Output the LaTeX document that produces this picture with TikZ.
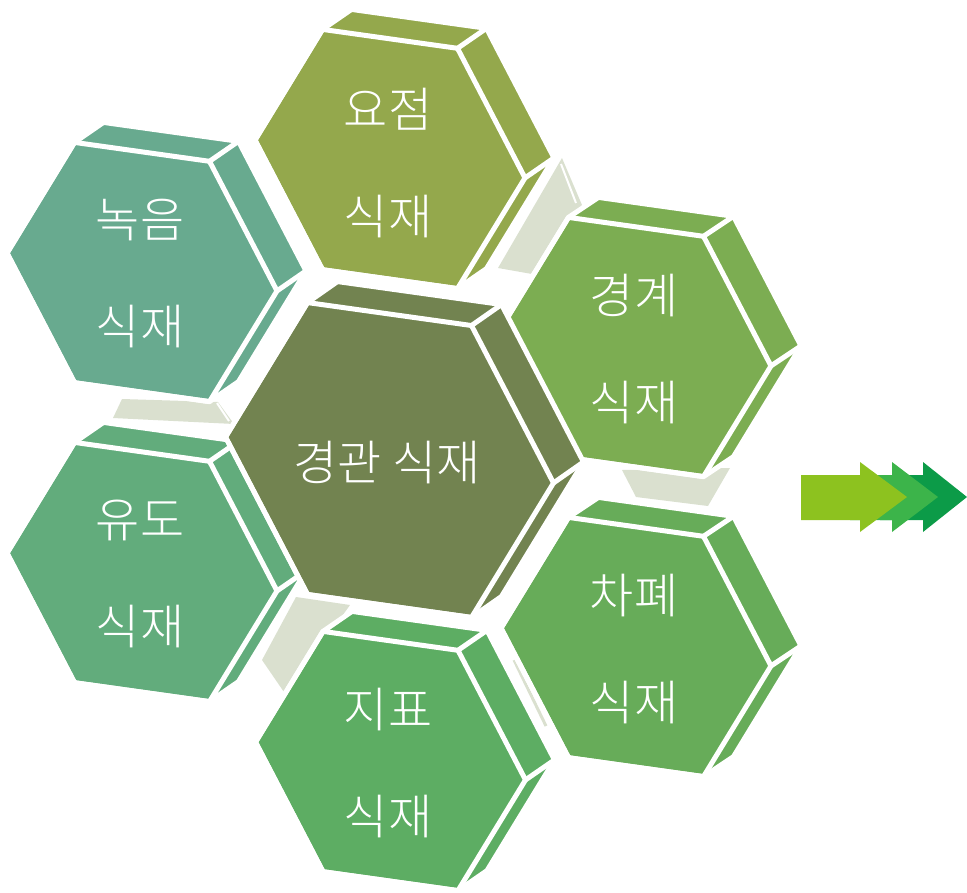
\documentclass[tikz,border=0pt]{standalone}
\usepackage{fontspec}
\IfFontExistsTF{Noto Sans CJK KR Light}{\newfontfamily\kr{Noto Sans CJK KR Light}}{%
  \IfFontExistsTF{Noto Sans CJK KR DemiLight}{\newfontfamily\kr{Noto Sans CJK KR DemiLight}}{\newfontfamily\kr{Noto Sans CJK KR}}}
\usetikzlibrary{calc}
\definecolor{cYo}{HTML}{94A84C}
\definecolor{cNok}{HTML}{68AA8F}
\definecolor{cYu}{HTML}{62AC7C}
\definecolor{cGg}{HTML}{7CAD52}
\definecolor{cCha}{HTML}{67AC59}
\definecolor{cJi}{HTML}{5DAD63}
\definecolor{cMain}{HTML}{728350}
\definecolor{cGray}{HTML}{DAE0CF}
\definecolor{arA}{HTML}{8DC21F}
\definecolor{arB}{HTML}{3CB44A}
\definecolor{arC}{HTML}{0C9B48}
\tikzset{
  lbl/.style={text=white, align=center, inner sep=0pt, font=\kr\fontsize{48}{107}\selectfont},
  gap/.style={white, line width=5pt, line join=round},
  graypart/.style={fill=cGray}
}
% #1 cx, #2 cy, #3 R, #4 ex, #5 ey, #6 colour
\newcommand{\hexprism}[6]{%
  \pgfmathsetmacro{\pa}{#3/2}%
  \pgfmathsetmacro{\ph}{0.89*#3}%
  \pgfmathsetmacro{\ps}{0.14*#3}%
  \pgfmathsetmacro{\pq}{0.07*#3}%
  \coordinate (R) at (#1+#3, #2+\ps);
  \coordinate (TR) at (#1+\pa, #2-\ph+\pq);
  \coordinate (TL) at (#1-\pa, #2-\ph-\pq);
  \coordinate (L) at (#1-#3, #2-\ps);
  \coordinate (BL) at (#1-\pa, #2+\ph-\pq);
  \coordinate (BR) at (#1+\pa, #2+\ph+\pq);
  \coordinate (bTL) at ($(TL)+(#4,#5)$);
  \coordinate (bTR) at ($(TR)+(#4,#5)$);
  \coordinate (bR) at ($(R)+(#4,#5)$);
  \coordinate (bBR) at ($(BR)+(#4,#5)$);
  \fill[#6] (L) -- (TL) -- (bTL) -- (bTR) -- (bR) -- (bBR) -- (BR) -- (BL) -- cycle;
  \draw[gap] (L) -- (TL) -- (bTL) -- (bTR) -- (bR) -- (bBR) -- (BR) -- (BL) -- cycle;
  \draw[gap] (L) -- (TL) -- (TR) -- (R) -- (BR) -- (BL) -- cycle;
  \draw[gap] (TR) -- (bTR) (R) -- (bR);
}
\begin{document}
\begin{tikzpicture}[x=1pt,y=-1pt]
\useasboundingbox (0,0) rectangle (967,892);

% pale connecting pieces behind the prisms
\fill[graypart] (498,268) -- (532,274) -- (582,205) -- (562,158) -- cycle;
\draw[white, line width=2pt] (561,164) -- (576,203);
\fill[graypart] (113,418) -- (122,399) -- (218,402) -- (234,424) -- cycle;
\draw[white, line width=2pt] (217,403) -- (229,421);
\fill[graypart] (296,597) -- (350,605) -- (286,695) -- (262,660) -- cycle;
\fill[graypart] (622,470) -- (730,468) -- (708,506) -- (636,497) -- cycle;
\draw[cGray, line width=3pt] (514,660) -- (546,726);

% prisms
\hexprism{142}{272}{135}{29}{-20}{cNok}
\hexprism{390}{159}{135}{29}{-20}{cYo}
\hexprism{142}{572}{135}{29}{-20}{cYu}
\hexprism{636}{347}{135}{30}{-20}{cGg}
\hexprism{636}{647}{135}{30}{-20}{cCha}
\hexprism{390.5}{761}{135}{29}{-20}{cJi}
\hexprism{389.5}{460}{164}{30}{-21}{cMain}

% labels
\node[lbl] (nokeum) at (140,274) {녹음\\식재};
\node[lbl] (yojeom) at (388,163) {요점\\식재};
\node[lbl] (yudo) at (140,574) {유도\\식재};
\node[lbl] (gyeonggye) at (634,349) {경계\\식재};
\node[lbl] (chapye) at (634,649) {차폐\\식재};
\node[lbl] (jipyo) at (388,763) {지표\\식재};
\node[lbl] (main) at (387,463) {경관 식재};

% triple arrow
\fill[arC] (880,475) -- (923,475) -- (923,462) -- (967,497) -- (923,532) -- (923,520) -- (880,520) -- cycle;
\fill[arB] (850,475) -- (892,475) -- (892,462) -- (938,497) -- (892,532) -- (892,520) -- (850,520) -- cycle;
\fill[arA] (801,475) -- (860,475) -- (860,462) -- (907,497) -- (860,532) -- (860,520) -- (801,520) -- cycle;
\end{tikzpicture}
\end{document}
